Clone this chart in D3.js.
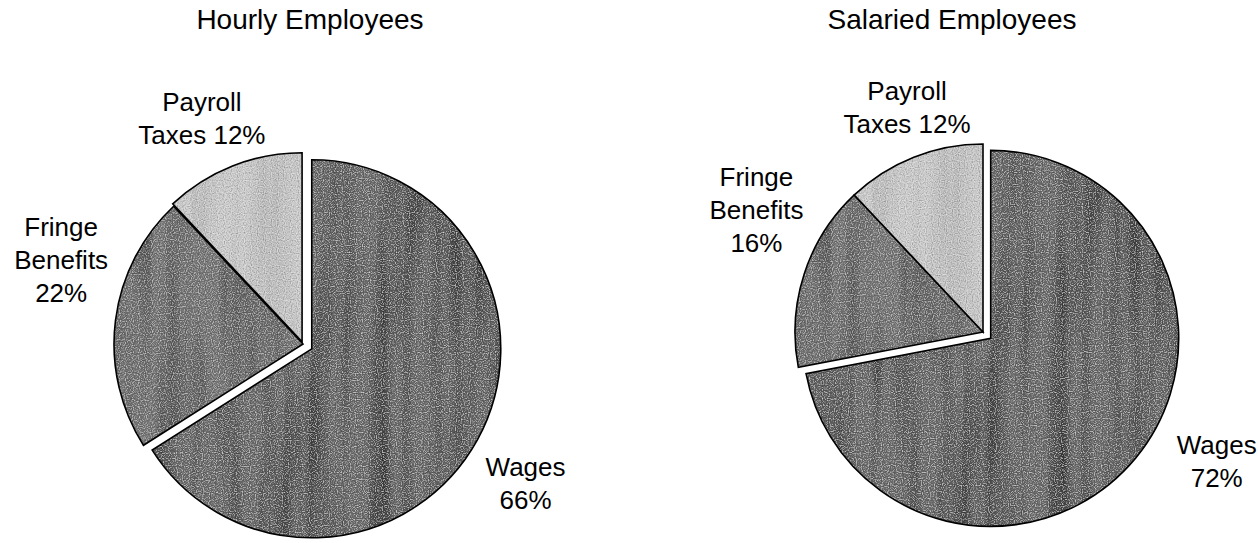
<!DOCTYPE html>
<html>
<head>
<meta charset="utf-8">
<script src="https://cdn.jsdelivr.net/npm/d3@7"></script>
<style>
  body { margin: 0; background: #fff; }
  svg text { font-family: "Liberation Sans", Arial, sans-serif; fill: #000; }
</style>
</head>
<body>
<div id="chart"></div>
<script>
// data
const chartTitles = ["Hourly Employees", "Salaried Employees"];
const categories = ["Wages", "Fringe Benefits", "Payroll Taxes"];
const hourlyValues = [66, 22, 12];
const salariedValues = [72, 16, 12];
// how each label breaks into lines ({v} is the value)
const labelLines = [["Wages", "{v}%"], ["Fringe", "Benefits", "{v}%"], ["Payroll", "Taxes {v}%"]];

// layout
const W = 1258, H = 543;
const fontSize = 26, titleSize = 28, lineH = 33;
const pies = [
  { title: chartTitles[0], values: hourlyValues, cx: 303, cy: 344, r: 189, titleX: 310,
    explode: [10, 0, 2.5],
    labelShift: [3.3, 12, -2.5], labelK: [1.39, 1.355, 1.31] },
  { title: chartTitles[1], values: salariedValues, cx: 983, cy: 332, r: 188, titleX: 952,
    explode: [10, 0, 0],
    labelShift: [-10.7, 10.4, 2.9], labelK: [1.42, 1.37, 1.26] }
];
// fill + texture per slice
const sliceStyle = [
  { fill: "#6c6c6c", streak: 0.65, grain: 0.6 },
  { fill: "#767676", streak: 0.5, grain: 0.55 },
  { fill: "#cbcbcb", streak: 0.18, grain: 0.5 }
];

const svg = d3.select("#chart").append("svg")
  .attr("width", W).attr("height", H);

const defs = svg.append("defs");
sliceStyle.forEach((s, i) => {
  const f = defs.append("filter").attr("id", "tex" + i)
    .attr("x", "0%").attr("y", "0%").attr("width", "100%").attr("height", "100%");
  f.append("feTurbulence").attr("type", "fractalNoise")
    .attr("baseFrequency", "0.05 0.004").attr("numOctaves", 3).attr("seed", 4 + i).attr("result", "streak");
  f.append("feColorMatrix").attr("in", "streak").attr("type", "matrix")
    .attr("values", `0 0 0 0 0  0 0 0 0 0  0 0 0 0 0  ${2.4 * s.streak} 0 0 0 ${-0.9 * s.streak}`)
    .attr("result", "dark");
  f.append("feTurbulence").attr("type", "fractalNoise")
    .attr("baseFrequency", "0.85").attr("numOctaves", 1).attr("seed", 11 + i).attr("result", "fine");
  f.append("feColorMatrix").attr("in", "fine").attr("type", "matrix")
    .attr("values", `0 0 0 0 1  0 0 0 0 1  0 0 0 0 1  ${3 * s.grain} 0 0 0 ${-1.5 * s.grain}`)
    .attr("result", "white");
  f.append("feColorMatrix").attr("in", "fine").attr("type", "matrix")
    .attr("values", `0 0 0 0 0  0 0 0 0 0  0 0 0 0 0  ${-3 * s.grain} 0 0 0 ${1.5 * s.grain}`)
    .attr("result", "black");
  const m = f.append("feMerge").attr("result", "all");
  ["SourceGraphic", "dark", "black", "white"].forEach(n => m.append("feMergeNode").attr("in", n));
  f.append("feComposite").attr("in", "all").attr("in2", "SourceGraphic").attr("operator", "in");
});

const pie = d3.pie().sort(null).value(d => d);

pies.forEach(p => {
  const g = svg.append("g");
  const arc = d3.arc().innerRadius(0).outerRadius(p.r);
  const arcs = pie(p.values);

  g.append("text")
    .attr("x", p.titleX).attr("y", 29)
    .attr("text-anchor", "middle")
    .attr("font-size", titleSize)
    .text(p.title);

  const slice = g.selectAll("g.slice").data(arcs).enter().append("g")
    .attr("class", "slice")
    .attr("transform", (d, i) => {
      const mid = (d.startAngle + d.endAngle) / 2;
      const e = p.explode[i];
      return `translate(${p.cx + Math.sin(mid) * e},${p.cy - Math.cos(mid) * e})`;
    });

  slice.append("path")
    .attr("d", arc)
    .attr("fill", (d, i) => sliceStyle[i].fill)
    .attr("filter", (d, i) => `url(#tex${i})`);

  slice.append("path")
    .attr("d", arc)
    .attr("fill", "none")
    .attr("stroke", "#000")
    .attr("stroke-width", 1.6)
    .attr("stroke-linejoin", "miter");

  // labels outside the slices
  arcs.forEach((d, i) => {
    const a = (d.startAngle + d.endAngle) / 2 + p.labelShift[i] * Math.PI / 180;
    const R = p.r * p.labelK[i];
    const x = p.cx + Math.sin(a) * R;
    const y = p.cy - Math.cos(a) * R;
    const lines = labelLines[i].map(t => t.replace("{v}", p.values[i]));
    const y0 = y - (lines.length - 1) * lineH / 2 + fontSize * 0.36;
    const t = g.append("text")
      .attr("text-anchor", "middle")
      .attr("font-size", fontSize);
    lines.forEach((ln, j) => {
      t.append("tspan").attr("x", x).attr("y", y0 + j * lineH).text(ln);
    });
  });
});
</script>
</body>
</html>
